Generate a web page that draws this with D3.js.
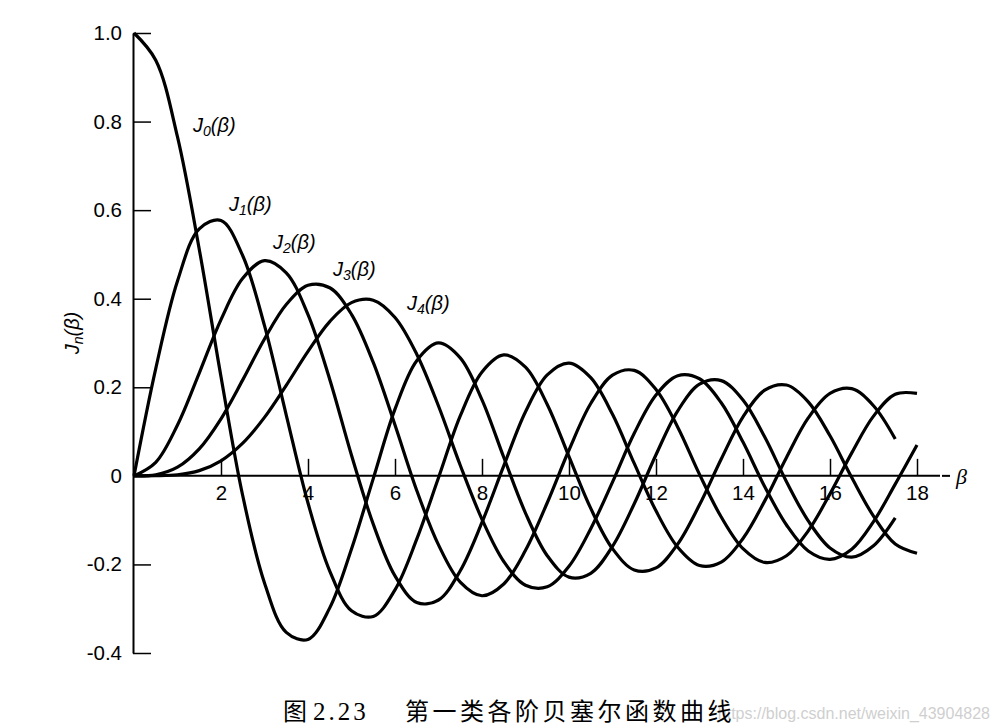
<!DOCTYPE html>
<html><head><meta charset="utf-8">
<script src="https://cdn.jsdelivr.net/npm/d3@7/dist/d3.min.js"></script>
<style>
html,body{margin:0;padding:0;background:#fff;}
svg{display:block;}
</style></head>
<body>
<svg id="chart" width="1000" height="728"></svg>
<script>
// ---- data ----
const beta = [0,0.5,1,1.5,2,2.5,3,3.5,4,4.5,5,5.5,6,6.5,7,7.5,8,8.5,9,9.5,10,10.5,11,11.5,12,12.5,13,13.5,14,14.5,15,15.5,16,16.5,17,17.5,18];
const J0 = [1.0000,0.9385,0.7652,0.5118,0.2239,-0.0450,-0.2419,-0.3535,-0.3693,-0.2981,-0.1652,-0.0063,0.1506,0.2601,0.3001,0.2663,0.1717,0.0419,-0.0840,-0.1803,-0.2287,-0.2200,-0.1592,-0.0630,0.0477,0.1469,0.2069,0.2150,0.1711,0.0875,-0.0132,-0.1016,-0.1627,-0.1837,-0.1580,-0.0950];
const J1 = [0,0.2423,0.4401,0.5579,0.5767,0.4971,0.3391,0.1374,-0.0614,-0.2149,-0.3047,-0.3175,-0.2573,-0.1430,-0.0044,0.1352,0.2346,0.2731,0.2453,0.1613,0.0435,-0.0734,-0.1644,-0.2124,-0.2078,-0.1539,-0.0654,0.0380,0.1334,0.1934,0.2051,0.1672,0.0904,-0.0038,-0.0909,-0.1538,-0.1748];
const J2 = [0,0.0306,0.1149,0.2321,0.3528,0.4461,0.4861,0.4586,0.3641,0.2178,0.0466,-0.1091,-0.2259,-0.2859,-0.2803,-0.2142,-0.1051,0.0224,0.1448,0.2279,0.2546,0.2216,0.1390,0.0280,-0.0790,-0.1613,-0.2025,-0.1947,-0.1414,-0.0565,0.0416,0.1308,0.1862,0.1970,0.1584,0.0833];
const J3 = [0,0.0026,0.0196,0.0610,0.1289,0.2167,0.3091,0.3868,0.4302,0.4247,0.3648,0.2561,0.1148,-0.0329,-0.1559,-0.2399,-0.2707,-0.2442,-0.1682,-0.0607,0.0584,0.1633,0.2273,0.2381,0.1951,0.1100,0.0033,-0.0930,-0.1644,-0.1955,-0.1804,-0.1241,-0.0407,0.0519,0.1349,0.1844,0.1863];
const J4 = [0,0.0002,0.0025,0.0118,0.0340,0.0738,0.1320,0.2044,0.2811,0.3484,0.3912,0.3967,0.3576,0.2748,0.1578,0.0239,-0.0980,-0.1933,-0.2469,-0.2503,-0.2042,-0.1193,-0.0140,0.0962,0.1825,0.2262,0.2193,0.1650,0.0762,-0.0244,-0.1109,-0.1696,-0.1884,-0.1656,-0.1034,-0.0187,0.0696];
const seriesNames = ["0","1","2","3","4"];
const xTicks = [2,4,6,8,10,12,14,16,18];
const xTickLabels = ["2","4","6","8","10","12","14","16","18"];
const yTicks = [-0.4,-0.2,0,0.2,0.4,0.6,0.8,1.0];
const yTickLabels = ["-0.4","-0.2","0","0.2","0.4","0.6","0.8","1.0"];
const captionFig = "2.23";
const captionText = "第一类各阶贝塞尔函数曲线";
const watermark = "https://blog.csdn.net/weixin_43904828";

// ---- drawing ----
const svg = d3.select("#chart");
const x = d3.scaleLinear().domain([0,18]).range([134,917]);
const y = d3.scaleLinear().domain([-0.4,1.0]).range([653,33]);
const FONT = "'Liberation Sans', Arial, sans-serif";

// watermark (behind caption)
svg.append("text").attr("x",990).attr("y",719).attr("text-anchor","end")
  .attr("font-family",FONT).attr("font-size",16).attr("fill","#cfcfcf").text(watermark);

// axes
const xAxis = d3.axisBottom(x).tickValues(xTicks)
  .tickFormat((d,i)=>xTickLabels[i]).tickSizeInner(-17).tickSizeOuter(0).tickPadding(10);
const gx = svg.append("g").attr("transform",`translate(0,${y(0)})`).call(xAxis);
gx.select(".domain").remove();
gx.selectAll(".tick line").attr("stroke","#000").attr("stroke-width",1.5);
gx.selectAll(".tick text").attr("font-family",FONT).attr("font-size",20.5).attr("fill","#000");

const yAxis = d3.axisLeft(y).tickValues(yTicks)
  .tickFormat((d,i)=>yTickLabels[i]).tickSizeInner(-18).tickSizeOuter(0).tickPadding(11);
const gy = svg.append("g").attr("transform",`translate(${x(0)-1},0)`).call(yAxis);
gy.select(".domain").attr("stroke","#000").attr("stroke-width",2);
gy.selectAll(".tick line").attr("stroke","#000").attr("stroke-width",1.5);
gy.selectAll(".tick text").attr("font-family",FONT).attr("font-size",20.5).attr("fill","#000");

// x axis line with end stub
svg.append("line").attr("x1",x(0)-1).attr("x2",940).attr("y1",y(0)).attr("y2",y(0))
  .attr("stroke","#000").attr("stroke-width",2);
svg.append("line").attr("x1",942).attr("x2",950).attr("y1",y(0)).attr("y2",y(0))
  .attr("stroke","#000").attr("stroke-width",2);

// curves
const allSeries = [J0,J1,J2,J3,J4];
const line = d3.line().x(d=>x(d[0])).y(d=>y(d[1])).curve(d3.curveCatmullRom.alpha(0.5));
allSeries.forEach(vals=>{
  const pts = vals.map((v,i)=>[beta[i],v]);
  svg.append("path").attr("d",line(pts)).attr("fill","none")
    .attr("stroke","#000").attr("stroke-width",3.2).attr("stroke-linejoin","round");
});

// curve labels
const labelPos = [[193,132],[229,211],[273,249],[333,276],[407,310]];
seriesNames.forEach((n,i)=>{
  const t = svg.append("text").attr("x",labelPos[i][0]).attr("y",labelPos[i][1])
    .attr("font-family",FONT).attr("font-style","italic").attr("font-size",20).attr("fill","#000");
  t.append("tspan").text("J");
  t.append("tspan").attr("font-size",14).attr("dy",4).text(n);
  t.append("tspan").attr("dy",-4).text("(β)");
});

// y-axis title
const yt = svg.append("text").attr("transform","translate(79,333) rotate(-90)")
  .attr("text-anchor","middle").attr("font-family",FONT).attr("font-style","italic")
  .attr("font-size",20).attr("fill","#000");
yt.append("tspan").text("J");
yt.append("tspan").attr("font-size",14).attr("dy",4).text("n");
yt.append("tspan").attr("dy",-4).text("(β)");

// x-axis title
svg.append("text").attr("x",956).attr("y",484).attr("font-family","'Liberation Serif', serif")
  .attr("font-style","italic").attr("font-size",22).attr("fill","#000").text("β");

// caption
svg.append("text").attr("x",283).attr("y",720).attr("font-family","'Noto Sans CJK SC', sans-serif")
  .attr("font-size",24).attr("fill","#000").text("图");
svg.append("text").attr("x",313).attr("y",720).attr("font-family","'Liberation Serif', serif")
  .attr("font-size",25).attr("letter-spacing",3).attr("fill","#000").text(captionFig);
svg.append("text").attr("x",405).attr("y",720).attr("font-family","'Noto Sans CJK SC', sans-serif")
  .attr("font-size",24).attr("letter-spacing",3.5).attr("fill","#000").text(captionText);
</script>
</body></html>
